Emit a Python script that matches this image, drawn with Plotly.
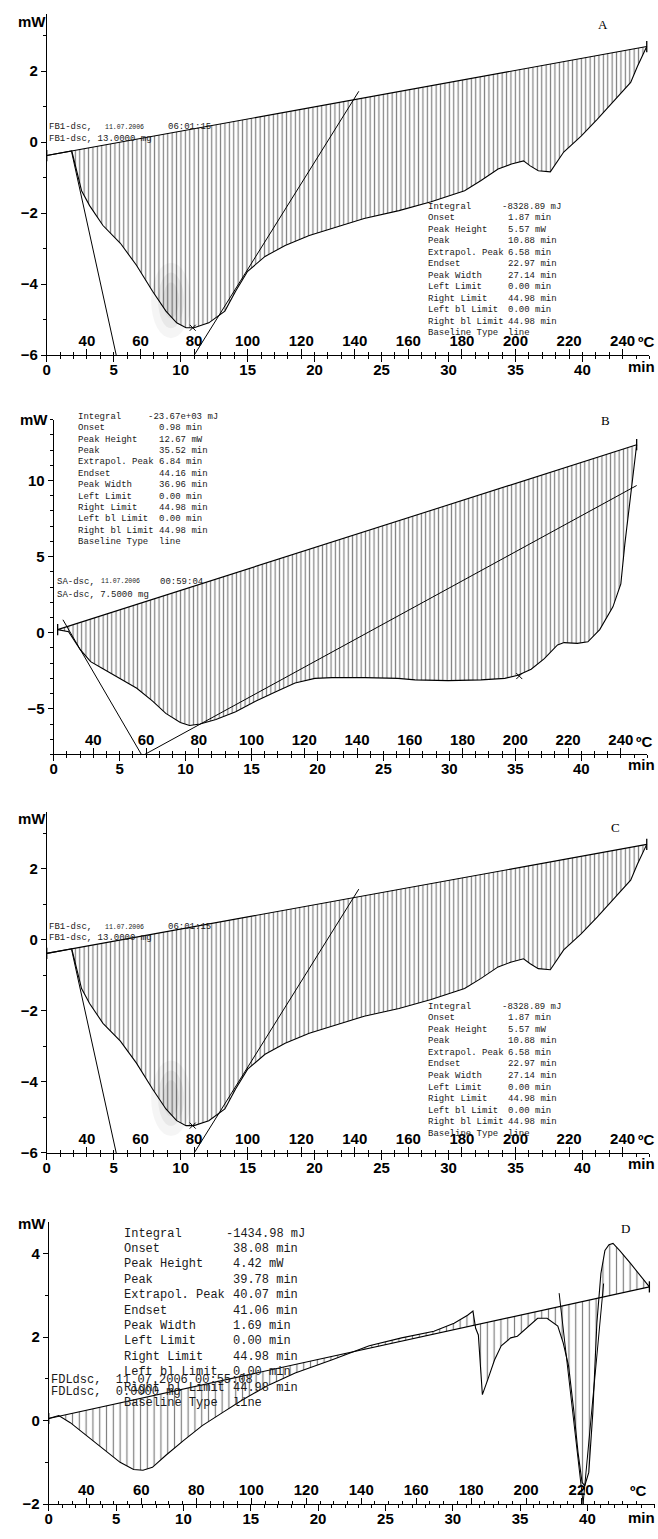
import plotly.graph_objects as go

W, H = 658, 1539

# ---------------- data ----------------
# Panel A (and C, identical trace): time [min], heat flow [mW]
t_A = [0.0, 1.87, 2.6, 3.2, 4.2, 5.5, 6.7, 7.9, 8.9, 9.7, 10.4, 11.0, 12.1, 13.3, 14.1,
       15.0, 16.3, 17.8, 19.6, 21.3, 23.7, 26.3, 28.7, 31.2, 32.4, 33.7, 34.7, 35.6, 36.1,
       36.7, 37.6, 38.6, 39.9, 41.1, 42.6, 43.6, 44.1, 44.8]
y_A = [-0.38, -0.25, -1.37, -1.79, -2.35, -2.85, -3.47, -4.2, -4.76, -5.09, -5.23, -5.23,
       -5.09, -4.76, -4.2, -3.64, -3.22, -2.91, -2.63, -2.43, -2.15, -1.93, -1.68, -1.37,
       -1.09, -0.76, -0.62, -0.53, -0.67, -0.81, -0.84, -0.28, 0.17, 0.64, 1.26, 1.68, 2.13, 2.69]
tanA1_t, tanA1_y = [1.86, 5.2], [-0.28, -6.02]
tanA2_t, tanA2_y = [10.76, 23.3], [-6.15, 1.43]
peakA_t, peakA_y = [10.9], [-5.23]
t_C, y_C = t_A, y_A
tanC1_t, tanC1_y = tanA1_t, tanA1_y
tanC2_t, tanC2_y = tanA2_t, tanA2_y
peakC_t, peakC_y = peakA_t, peakA_y

# Panel B
t_B = [0.3, 1.13, 2.0, 2.8, 3.8, 5.0, 6.3, 7.5, 8.5, 9.6, 10.3, 11.1, 12.3, 13.8, 15.3,
       16.8, 18.3, 19.8, 21.1, 23.6, 26.1, 27.4, 29.9, 32.4, 34.2, 35.2, 36.2, 37.2, 38.2,
       38.7, 39.7, 40.5, 41.4, 42.4, 43.0, 43.3, 43.7, 44.2]
y_B = [0.2, 0.07, -1.1, -1.9, -2.4, -3.0, -3.65, -4.5, -5.3, -5.9, -6.1, -6.0, -5.7, -5.2,
       -4.5, -3.9, -3.3, -3.0, -2.95, -2.95, -3.0, -3.1, -3.15, -3.1, -3.0, -2.8, -2.4, -1.7,
       -0.8, -0.65, -0.7, -0.6, 0.2, 1.7, 3.2, 5.8, 8.9, 12.35]
tanB1_t, tanB1_y = [0.7, 6.65], [0.85, -8.0]
tanB2_t, tanB2_y = [6.9, 44.2], [-8.0, 9.67]
peakB_t, peakB_y = [35.3], [-2.85]

# Panel D
t_D = [0.0, 0.74, 1.6, 2.8, 4.06, 5.3, 6.3, 7.0, 7.7, 8.7, 10.0, 11.4, 12.9, 14.4, 16.4,
       18.3, 21.0, 23.8, 26.2, 28.6, 30.1, 31.1, 31.5, 31.6, 31.7, 31.9, 32.2, 32.6, 33.1,
       33.6, 34.3, 34.8, 35.6, 36.3, 37.0, 37.8, 38.2, 38.6, 39.0, 39.3, 39.6, 39.8, 40.1,
       40.4, 40.7, 41.0, 41.3, 41.6, 41.9, 42.4, 43.2, 43.9, 44.6]
y_D = [0.05, 0.12, -0.05, -0.36, -0.69, -1.0, -1.17, -1.19, -1.12, -0.83, -0.48, -0.12,
       0.19, 0.5, 0.86, 1.14, 1.45, 1.79, 1.98, 2.14, 2.33, 2.52, 2.62, 2.4, 2.21, 2.05,
       0.62, 0.98, 1.45, 1.79, 1.98, 2.02, 2.26, 2.45, 2.45, 2.26, 1.86, 1.31, 0.2, -0.76,
       -1.48, -1.56, -1.24, 0.19, 2.33, 3.52, 4.07, 4.21, 4.24, 4.07, 3.76, 3.48, 3.2]
tanD1_t, tanD1_y = [37.9, 39.9], [3.05, -2.6]
tanD2_t, tanD2_y = [41.2, 39.5], [3.28, -2.6]

# Evaluation tables
stat_labels = ["Integral", "Onset", "Peak Height", "Peak", "Extrapol. Peak", "Endset",
               "Peak Width", "Left Limit", "Right Limit", "Left bl Limit",
               "Right bl Limit", "Baseline Type"]
values_A = ["-8328.89 mJ", "1.87 min", "5.57 mW", "10.88 min", "6.58 min", "22.97 min",
            "27.14 min", "0.00 min", "44.98 min", "0.00 min", "44.98 min", "line"]
values_B = ["-23.67e+03 mJ", "0.98 min", "12.67 mW", "35.52 min", "6.84 min", "44.16 min",
            "36.96 min", "0.00 min", "44.98 min", "0.00 min", "44.98 min", "line"]
values_C = values_A
values_D = ["-1434.98 mJ", "38.08 min", "4.42 mW", "39.78 min", "40.07 min", "41.06 min",
            "1.69 min", "0.00 min", "44.98 min", "0.00 min", "44.98 min", "line"]

# Axis ticks
time_ticks = [0, 5, 10, 15, 20, 25, 30, 35, 40]
temp_labels_ABC = [40, 60, 80, 100, 120, 140, 160, 180, 200, 220, 240]
temp_labels_D = [40, 60, 80, 100, 120, 140, 160, 180, 200, 220]
temp_minor = list(range(30, 245, 5))

# ---------------- layout helpers ----------------
LBL = dict(family="Liberation Sans", size=15, color="black", weight="bold")
MONO = "Liberation Mono"


def ann(text, xp, yp, size, family=MONO, xanchor="left", color="#1a1a1a", weight="normal"):
    return dict(text=text, x=xp / W, y=1 - yp / H, xref="paper", yref="paper",
                xanchor=xanchor, yanchor="middle", showarrow=False,
                font=dict(size=size, family=family, color=color, weight=weight))


panels = [
    dict(t=t_A, y=y_A, tans=[(tanA1_t, tanA1_y), (tanA2_t, tanA2_y)], peak=(peakA_t, peakA_y),
         x0=43, ppm=13.475, ytop=14.3, ybot=357, yr=[-6, 3.6], dtick=2, hatch=4.4,
         temps=temp_labels_ABC, T0=25.0, rate=5.0, values=values_A,
         blk=(425, 208, 11.55, 505, 499, 9.0), letter=("A", 603, 25),
         mw=(28, 22), minlab=(641, 368), degC=(646, 343), smudge=(168, 302),
         head=[("FB1-dsc,", 43, 128, 9), ("11.07.2006", 100, 128, 6.5), ("06:01:15", 163, 128, 9),
               ("FB1-dsc, 13.0000 mg", 43, 140, 9)]),
    dict(t=t_B, y=y_B, tans=[(tanB1_t, tanB1_y), (tanB2_t, tanB2_y)], peak=(peakB_t, peakB_y),
         x0=50, ppm=13.27, ytop=421.8, ybot=758.4, yr=[-8, 14], dtick=5, hatch=4.3,
         temps=temp_labels_ABC, T0=25.0, rate=5.0, values=values_B,
         blk=(72, 419, 11.45, 154, 143, 9.0), letter=("B", 605, 423),
         mw=(30, 422), minlab=(641, 768), degC=(644, 745), smudge=None,
         head=[("SA-dsc,", 51, 585, 9), ("11.07.2006", 96, 585, 6.5), ("00:59:04", 155, 585, 9),
               ("SA-dsc, 7.5000 mg", 51, 598, 9)]),
    dict(t=t_C, y=y_C, tans=[(tanC1_t, tanC1_y), (tanC2_t, tanC2_y)], peak=(peakC_t, peakC_y),
         x0=43, ppm=13.475, ytop=816.3, ybot=1159, yr=[-6, 3.6], dtick=2, hatch=4.4,
         temps=temp_labels_ABC, T0=25.0, rate=5.0, values=values_C,
         blk=(425, 1012, 11.6, 505, 499, 9.0), letter=("C", 615, 832),
         mw=(28, 823), minlab=(641, 1170), degC=(646, 1145), smudge=(168, 1104),
         head=[("FB1-dsc,", 43, 932, 9), ("11.07.2006", 100, 932, 6.5), ("06:01:15", 163, 932, 9),
               ("FB1-dsc, 13.0000 mg", 43, 943, 9)]),
    dict(t=t_D, y=y_D, tans=[(tanD1_t, tanD1_y), (tanD2_t, tanD2_y)], peak=None,
         x0=45, ppm=13.55, ytop=1228.5, ybot=1512, yr=[-2, 4.75], dtick=2, hatch=6.8,
         temps=temp_labels_D, T0=26.3, rate=4.9, values=values_D,
         blk=(119, 1240, 15.5, 228, 221, 12.0), letter=("D", 625, 1235),
         mw=(28, 1230), minlab=(641, 1525), degC=(638, 1498), smudge=None,
         head=[("FDLdsc,  11.07.2006 00:55:08", 45, 1387, 12), ("FDLdsc,  0.0000 mg", 45, 1399, 12)]),
]

fig = go.Figure()
layout = dict(width=W, height=H, margin=dict(l=0, r=0, t=0, b=0), showlegend=False,
              paper_bgcolor="white", plot_bgcolor="white")
annotations = []
shapes = []

for i, p in enumerate(panels, start=1):
    sx = "" if i == 1 else str(i)
    xa, ya, ta = "x" + sx, "y" + sx, "x" + str(i + 4)
    ydom = [1 - p["ybot"] / H, 1 - p["ytop"] / H]
    xdom = [p["x0"] / W, (p["x0"] + 45 * p["ppm"]) / W]

    # faint scanner smudge near the peak (paper pixels)
    if p["smudge"] is not None:
        cx, cy = p["smudge"]
        for rw, rh, op in [(20, 38, 0.04), (13, 28, 0.05), (8, 18, 0.05)]:
            shapes.append(dict(type="circle", xref="paper", yref="paper", layer="below",
                               x0=(cx - rw) / W, x1=(cx + rw) / W,
                               y0=1 - (cy + rh) / H, y1=1 - (cy - rh) / H,
                               fillcolor="rgba(0,0,0,%.2f)" % op, line=dict(width=0)))

    # hatched peak area (curve closed along its baseline)
    fig.add_trace(go.Scatter(x=p["t"], y=p["y"], mode="lines", xaxis=xa, yaxis=ya,
                             line=dict(color="black", width=1.1), fill="toself",
                             fillcolor="rgba(0,0,0,0)",
                             fillpattern=dict(shape="|", size=p["hatch"], solidity=1.2 / p["hatch"],
                                              fgcolor="black", bgcolor="rgba(0,0,0,0)")))
    # baseline
    fig.add_trace(go.Scatter(x=[p["t"][0], p["t"][-1]], y=[p["y"][0], p["y"][-1]], mode="lines",
                             xaxis=xa, yaxis=ya, line=dict(color="black", width=1.1)))
    # tangents
    for tt, yy in p["tans"]:
        fig.add_trace(go.Scatter(x=tt, y=yy, mode="lines", xaxis=xa, yaxis=ya,
                                 line=dict(color="black", width=1)))
    # peak marker
    if p["peak"] is not None:
        fig.add_trace(go.Scatter(x=p["peak"][0], y=p["peak"][1], mode="markers", xaxis=xa, yaxis=ya,
                                 marker=dict(symbol="x-thin", size=6, color="black",
                                             line=dict(width=1, color="black"))))
    # end markers
    fig.add_trace(go.Scatter(x=[p["t"][0], p["t"][-1]], y=[p["y"][0], p["y"][-1]], mode="markers",
                             xaxis=xa, yaxis=ya, cliponaxis=False,
                             marker=dict(symbol="line-ns", size=8, color="black",
                                         line=dict(width=1.3, color="black"))))
    # dummy trace for the temperature axis
    fig.add_trace(go.Scatter(x=[], y=[], xaxis=ta, yaxis=ya, hoverinfo="skip"))

    layout["xaxis" + sx] = dict(domain=xdom, range=[0, 45], anchor=ya, showline=True,
                                linecolor="black", linewidth=1, ticks="outside", tickvals=time_ticks,
                                ticklen=6, tickwidth=1, tickcolor="black", tickfont=LBL,
                                ticklabelstandoff=-5,
                                minor=dict(dtick=1, tick0=0, ticklen=3, ticks="outside",
                                           tickcolor="black", tickwidth=1),
                                showgrid=False, zeroline=False)
    layout["yaxis" + sx] = dict(domain=ydom, range=p["yr"], anchor=xa, showline=True,
                                linecolor="black", linewidth=1, ticks="outside", dtick=p["dtick"],
                                tick0=0, ticklen=5, tickcolor="black", tickfont=LBL,
                                minor=dict(dtick=1, ticklen=3, ticks="outside", tickcolor="black"),
                                showgrid=False, zeroline=False)
    layout["xaxis" + str(i + 4)] = dict(
        overlaying=xa, anchor="free", position=ydom[0], side="top", range=[0, 45],
        tickmode="array", tickvals=[(T - p["T0"]) / p["rate"] for T in p["temps"]],
        ticktext=[str(T) for T in p["temps"]], ticks="outside", ticklen=6, tickcolor="black",
        tickfont=LBL, ticklabelstandoff=-3,
        minor=dict(tickmode="array", tickvals=[(T - p["T0"]) / p["rate"] for T in temp_minor
                                               if (T - p["T0"]) / p["rate"] < 44.5],
                   ticklen=3, ticks="outside", tickcolor="black"),
        showline=False, showgrid=False, zeroline=False)

    # texts
    bx, by, bstep, vx, ix, fs = p["blk"]
    for k, (lab, val) in enumerate(zip(stat_labels, p["values"])):
        yy = by + k * bstep
        annotations.append(ann(lab, bx, yy, fs))
        annotations.append(ann(val, ix if k == 0 else vx, yy, fs))
    for txt, hx, hy, hs in p["head"]:
        annotations.append(ann(txt, hx, hy, hs))
    annotations.append(ann(p["letter"][0], p["letter"][1], p["letter"][2], 13,
                           family="Liberation Serif", xanchor="center", color="black"))
    annotations.append(ann("mW", p["mw"][0], p["mw"][1], 15, family="Liberation Sans",
                           xanchor="center", color="black", weight="bold"))
    annotations.append(ann("min", p["minlab"][0], p["minlab"][1], 15, family="Liberation Sans",
                           xanchor="center", color="black", weight="bold"))
    annotations.append(ann("ºC", p["degC"][0], p["degC"][1], 15, family="Liberation Sans",
                           xanchor="center", color="black", weight="bold"))

layout["annotations"] = annotations
layout["shapes"] = shapes
fig.update_layout(**layout)
fig.write_html("out.html", config=dict(displayModeBar=False),
               post_script="document.body.style.margin='0';document.body.style.padding='0';")
